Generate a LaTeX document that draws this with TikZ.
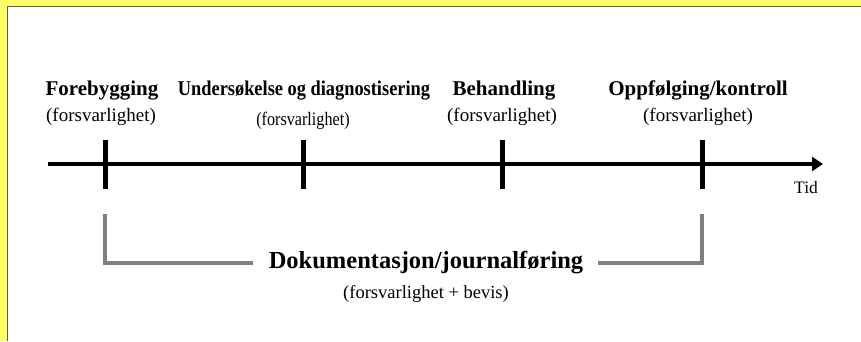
\documentclass[tikz,border=0pt]{standalone}
\usepackage{fontspec}
\usepackage{graphicx}
\setmainfont{Liberation Serif}
\usetikzlibrary{arrows.meta}
\definecolor{frameyellow}{RGB}{255,255,102}
\definecolor{framegray}{RGB}{90,90,90}
\definecolor{bracketgray}{RGB}{128,128,128}
\tikzset{
  phase/.style={anchor=base,inner sep=0pt,font=\fontsize{21}{24}\selectfont\bfseries},
  note/.style={anchor=base,inner sep=0pt,font=\fontsize{19}{22}\selectfont},
  tickmark/.style={line width=5pt},
  bracket/.style={bracketgray,line width=3.5pt}
}
\begin{document}
\begin{tikzpicture}[x=1pt,y=-1pt]
        \useasboundingbox (0,0) rectangle (861,341);
        %% frame
        \fill[frameyellow] (0,0) rectangle (861,341);
        \fill[white] (7,6) rectangle (861,341);
        \draw[framegray,line width=1.5pt] (7.5,341) -- (7.5,6.5) -- (861,6.5);
        %% time axis
        \coordinate (start) at (48,164);
        \coordinate (end) at (823,164);
        \draw[line width=3.5pt,-{Triangle[length=11pt,width=14pt]}] (start) -- (end);
        \node[anchor=base,inner sep=0pt,font=\fontsize{17.5}{20}\selectfont] (tid) at (806,193) {Tid};
        %% ticks
        \foreach \name/\x in {t1/105,t2/303,t3/502,t4/702} {
            \coordinate (\name) at (\x,164);
            \draw[tickmark] (\x,140) -- (\x,189);
        }
        %% phases
        \node[phase] (forebygging) at (102,95) {Forebygging};
        \node[note] (forebygging-note) at (101,121) {(forsvarlighet)};
        \node[phase] (undersokelse) at (304,95) {\scalebox{0.875}[1]{Undersøkelse og diagnostisering}};
        \node[note] (undersokelse-note) at (303,125) {\scalebox{0.85}[1]{(forsvarlighet)}};
        \node[phase] (behandling) at (504,95) {Behandling};
        \node[note] (behandling-note) at (502,121) {(forsvarlighet)};
        \node[phase] (oppfolging) at (698,95) {Oppfølging/kontroll};
        \node[note] (oppfolging-note) at (698,121) {(forsvarlighet)};
        %% documentation
        \node[anchor=base,inner sep=0pt,font=\fontsize{24.5}{28}\selectfont\bfseries] (doc) at (426,268) {Dokumentasjon/journalføring};
        \node[anchor=base,inner sep=0pt,font=\fontsize{18.5}{21}\selectfont] (doc-note) at (426,298) {(forsvarlighet + bevis)};
        \coordinate (b1) at (105,214);
        \coordinate (b4) at (702,214);
        \coordinate (docleft) at (253,263);
        \coordinate (docright) at (598,263);
        \draw[bracket] (b1) |- (docleft);
        \draw[bracket] (docright) -| (b4);
\end{tikzpicture}
\end{document}
